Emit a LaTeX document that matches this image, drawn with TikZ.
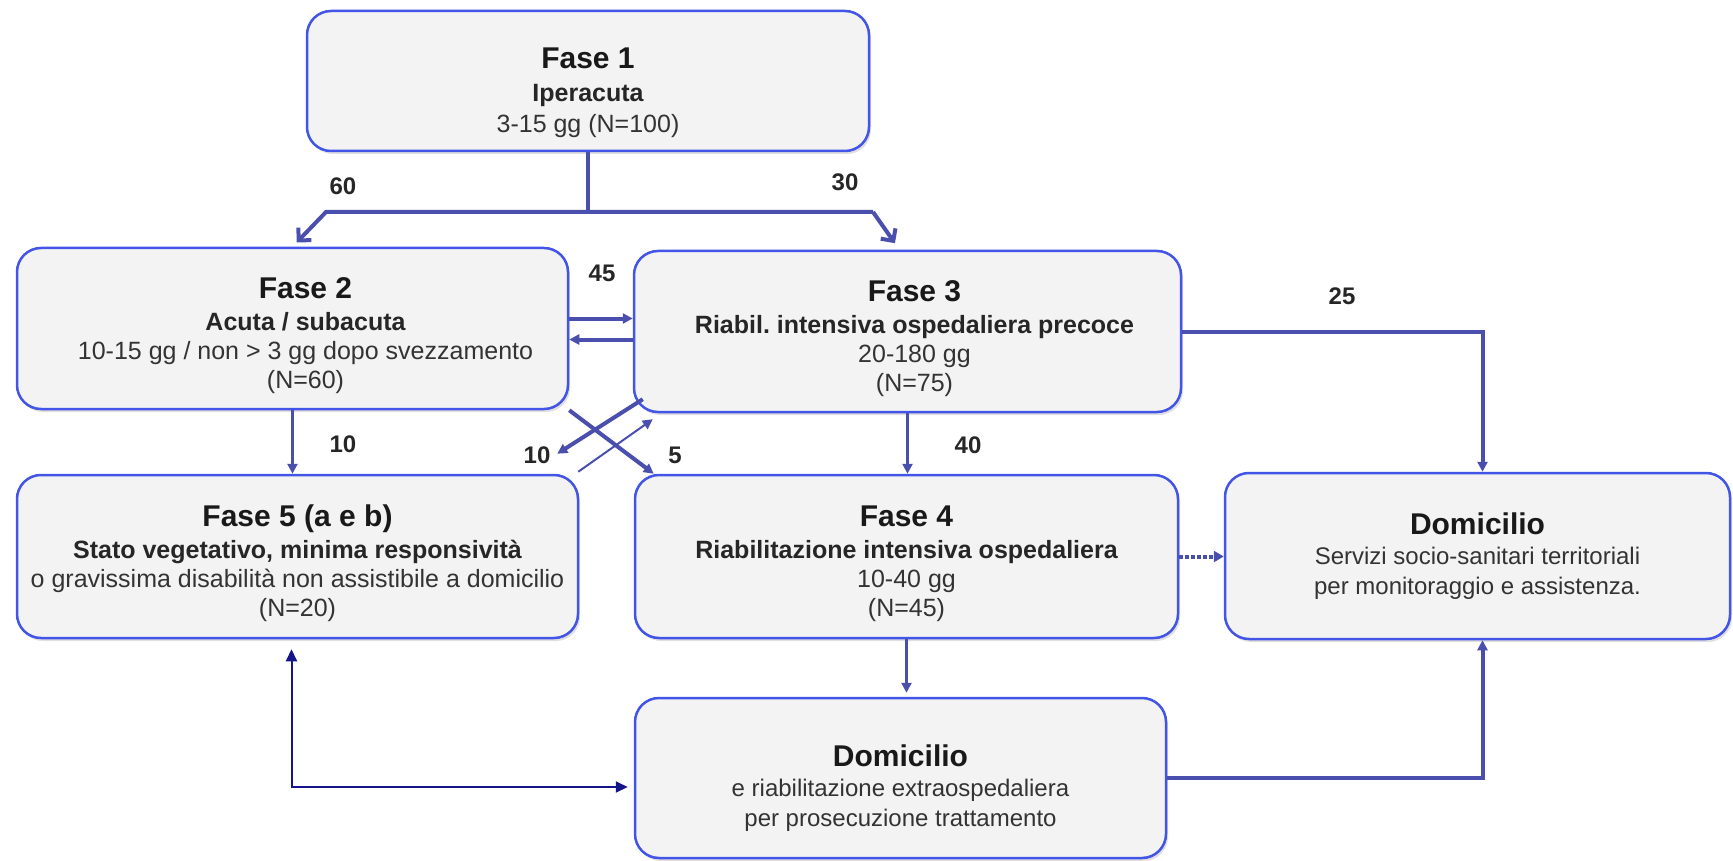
\documentclass[tikz,border=0pt]{standalone}
\usepackage{fontspec}
\setmainfont{Liberation Sans}
\usetikzlibrary{arrows.meta,shadows}
\definecolor{boxline}{HTML}{4355E6}
\definecolor{boxfill}{HTML}{F3F3F3}
\definecolor{flowline}{HTML}{4A4FAE}
\definecolor{navyline}{HTML}{14148C}
\definecolor{bodytext}{HTML}{333333}
\newcommand{\fasetit}[2][36pt]{{\fontsize{30}{36}\selectfont\bfseries\color{black!90}\rule{0pt}{#1}#2}}
\newcommand{\fasesub}[1]{{\bfseries\color{black!85}#1}}
\newcommand{\dx}[1]{\hspace*{#1}}
\frenchspacing

\begin{document}
\begin{tikzpicture}[x=1pt, y=-1pt,
  fase/.style={draw=boxline, fill=boxfill, line width=2.5pt, rounded corners=24pt,
    align=center, inner sep=0pt, text=bodytext, font=\fontsize{25}{29}\selectfont,
    drop shadow={shadow xshift=2pt, shadow yshift=-3pt, opacity=0.25}},
  flusso/.style={draw=flowline, line width=3pt, -{Triangle[length=10pt,width=10pt]}},
  grosso/.style={draw=flowline, line width=4pt},
  etichetta/.style={font=\fontsize{24}{28}\selectfont\bfseries, text=black!85}]
  \useasboundingbox (0,0) rectangle (1733,861);

  % boxes
  \node[fase, minimum width=562pt, minimum height=140pt] (f1) at (588,81)
    {\fasetit[45pt]{Fase 1}\\[4pt] \fasesub{Iperacuta}\\[2pt] 3-15 gg (N=100)};
  \node[fase, minimum width=551pt, minimum height=161pt] (f2) at (292.5,328.5)
    {\dx{26pt}\fasetit{Fase 2}\\[3pt] \dx{26pt}\fasesub{Acuta / subacuta}\\ \dx{26pt}10-15 gg / non > 3 gg dopo svezzamento\\ \dx{26pt}(N=60)};
  \node[fase, minimum width=547pt, minimum height=161pt] (f3) at (907.5,331.5)
    {\dx{14pt}\fasetit{Fase 3}\\[3pt] \dx{14pt}\fasesub{Riabil. intensiva ospedaliera precoce}\\ \dx{14pt}20-180 gg\\ \dx{14pt}(N=75)};
  \node[fase, minimum width=561pt, minimum height=163pt] (f5) at (297.5,556.5)
    {\fasetit{Fase 5 (a e b)}\\[3pt] \fasesub{Stato vegetativo, minima responsività}\\ o gravissima disabilità non assistibile a domicilio\\ (N=20)};
  \node[fase, minimum width=543pt, minimum height=163pt] (f4) at (906.5,556.5)
    {\fasetit{Fase 4}\\[3pt] \fasesub{Riabilitazione intensiva ospedaliera}\\ 10-40 gg\\ (N=45)};
  \node[fase, minimum width=505pt, minimum height=166pt, font=\fontsize{24}{30}\selectfont] (domR) at (1477.5,556)
    {\fasetit[0pt]{Domicilio}\\ Servizi socio-sanitari territoriali\\ per monitoraggio e assistenza.};
  \node[fase, minimum width=531pt, minimum height=160pt, font=\fontsize{24}{30}\selectfont] (domB) at (900.5,778)
    {\fasetit[42pt]{Domicilio}\\ e riabilitazione extraospedaliera\\ per prosecuzione trattamento};

  % split from Fase 1
  \coordinate (nodo) at (589,212);
  \coordinate (nodoL) at (326,212);
  \coordinate (nodoR) at (873,212);
  \draw[grosso] (f1.south) -- (f1.south |- nodo);
  \draw[grosso, -{Straight Barb[length=9pt,width=18pt]}, shorten >=6pt] (nodoR) -- (nodoL) -- (f2.north);
  \draw[grosso, -{Straight Barb[length=9pt,width=18pt]}, shorten >=8pt] (nodoR) -- ([xshift=-8pt]f3.north);
  \node[etichetta] (l60) at (343,186) {60};
  \node[etichetta] (l30) at (845,182) {30};

  % Fase 2 <-> Fase 3
  \draw[flusso, line width=4pt] ([yshift=10pt]f2.east) -- ([yshift=10pt]f2.east -| f3.west);
  \draw[flusso, line width=4pt] ([yshift=-11pt]f2.east -| f3.west) -- ([yshift=-11pt]f2.east);
  \node[etichetta] (l45) at (602,273) {45};

  % Fase 3 -> Domicilio
  \draw[flusso, line width=4pt] (f3.east) -| ([xshift=5pt]domR.north);
  \node[etichetta] (l25) at (1342,296) {25};

  % down arrows
  \draw[flusso] (f2.south) -- (f2.south |- f5.north);
  \node[etichetta] (l10a) at (343,444) {10};
  \draw[flusso] (f3.south) -- (f3.south |- f4.north);
  \node[etichetta] (l40) at (968,445) {40};
  \draw[flusso, shorten >=4pt] (f4.south) -- (f4.south |- domB.north);

  % crossing arrows
  \draw[flusso, line width=4pt] (f2.south east) -- ([xshift=20pt]f4.north west);
  \node[etichetta] (l5) at (675,455) {5};
  \draw[flusso, line width=4pt] ([xshift=10pt,yshift=14pt]f3.south west) -- ([xshift=-22pt,yshift=20pt]f5.north east);
  \node[etichetta] (l10b) at (537,455) {10};
  \draw[flusso, line width=2pt] ([xshift=-1pt,yshift=2pt]f5.north east) -- ([xshift=20pt,yshift=-6pt]f3.south west);

  % to Domicilio (right)
  \draw[flusso, line width=4pt, dotted, -{Triangle[length=10pt,width=11pt]}] (f4.east) -- (f4.east -| domR.west);
  \draw[flusso, line width=4pt] (domB.east) -| ([xshift=5pt]domR.south);

  % Fase 5 <-> Domicilio
  \draw[navyline, line width=2pt, {Triangle[length=12pt,width=11pt]}-{Triangle[length=12pt,width=11pt]},
    shorten <=10pt, shorten >=6pt] ([xshift=-6pt]f5.south) |- ([yshift=-9pt]domB.west);
\end{tikzpicture}
\end{document}
